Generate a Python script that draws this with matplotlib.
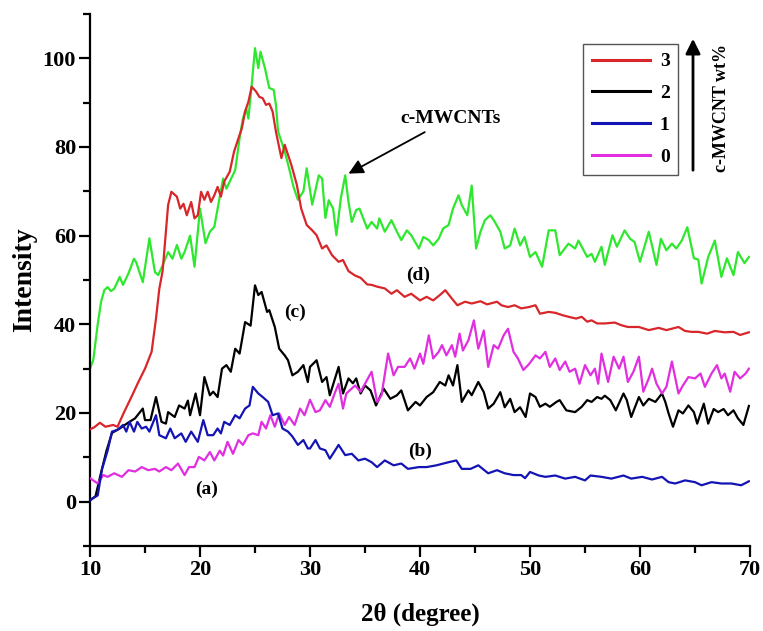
import matplotlib
matplotlib.use("Agg")
import matplotlib.pyplot as plt
from matplotlib.ticker import MultipleLocator

# ---------------- data ----------------
green_x = [10.0, 10.3, 10.7, 11.0, 11.3, 11.6, 11.9, 12.2, 12.7, 13.0, 13.5, 14.0, 14.2, 14.8,
           15.4, 15.9, 16.2, 16.6, 17.1, 17.5, 17.9, 18.3, 18.6, 19.1, 19.5, 20.0, 20.5, 20.9,
           21.3, 22.1, 22.4, 23.2, 23.6, 23.9, 24.2, 24.4, 24.7, 25.0, 25.3, 25.5, 25.9, 26.3,
           26.7, 26.9, 27.1, 27.7, 28.1, 28.5, 28.9, 29.4, 29.7, 30.2, 30.8, 31.1, 31.4, 31.7,
           32.1, 32.4, 32.8, 33.2, 33.5, 33.8, 34.2, 34.5, 35.2, 35.6, 36.1, 36.3, 36.8, 37.4,
           37.9, 38.3, 38.8, 39.2, 39.9, 40.3, 40.8, 41.2, 41.7, 42.1, 42.6, 43.0, 43.5, 43.8,
           44.3, 44.7, 45.1, 45.5, 45.9, 46.4, 46.8, 47.3, 47.7, 48.2, 48.6, 49.1, 49.5, 50.0,
           50.5, 51.1, 51.7, 52.3, 52.7, 53.5, 54.1, 54.4, 55.2, 55.6, 55.9, 56.5, 56.8, 57.5,
           57.9, 58.6, 59.1, 59.5, 60.0, 60.8, 61.5, 61.9, 62.4, 62.9, 63.3, 63.8, 64.3, 64.9,
           65.3, 65.6, 66.2, 66.8, 67.4, 67.9, 68.5, 68.9, 69.5, 69.9]
green_y = [30.0, 32.0, 40.0, 45.0, 47.7, 48.4, 47.5, 48.0, 50.7, 48.9, 51.5, 54.8, 54.0, 49.5,
           59.4, 51.8, 51.1, 53.3, 56.3, 54.8, 57.9, 54.8, 56.3, 60.0, 53.0, 66.1, 58.3, 60.9,
           62.0, 72.9, 70.6, 74.8, 82.0, 86.4, 88.7, 86.4, 94.0, 102.3, 97.8, 101.5, 97.8, 93.3,
           92.9, 89.5, 83.5, 79.0, 75.2, 71.0, 68.1, 70.0, 75.2, 67.0, 73.6, 72.9, 64.0, 68.0,
           66.1, 60.1, 68.4, 73.6, 67.6, 63.1, 65.8, 66.1, 61.6, 63.1, 61.6, 63.9, 60.9, 63.5,
           60.9, 59.0, 61.2, 60.1, 57.1, 59.7, 59.0, 57.8, 59.3, 61.6, 62.4, 66.1, 69.1, 66.9,
           64.6, 71.3, 57.1, 60.9, 63.5, 64.6, 63.1, 60.9, 57.1, 57.8, 61.6, 57.8, 59.7, 55.2,
           56.3, 53.0, 61.2, 61.2, 55.6, 58.2, 57.1, 58.9, 55.2, 55.9, 54.1, 57.5, 53.4, 60.1,
           57.5, 61.2, 59.3, 58.6, 54.1, 60.9, 53.4, 59.3, 56.7, 58.2, 57.1, 58.9, 61.9, 54.9,
           54.6, 49.2, 55.2, 58.9, 50.7, 54.9, 51.1, 56.3, 53.8, 55.2]

red_x = [10.0, 10.4, 10.9, 11.4, 12.1, 12.5, 13.1, 13.8, 14.4, 15.0, 15.6, 16.0, 16.3, 16.6,
         16.8, 17.1, 17.4, 17.9, 18.2, 18.5, 18.8, 19.2, 19.5, 19.8, 20.1, 20.4, 20.7, 21.0,
         21.3, 21.6, 21.9, 22.2, 22.7, 23.1, 23.5, 23.8, 24.1, 24.4, 24.7, 25.1, 25.4, 25.7,
         26.0, 26.3, 26.6, 26.9, 27.4, 27.7, 27.9, 28.3, 28.8, 29.2, 29.7, 30.2, 30.6, 31.1,
         31.5, 32.0, 32.6, 33.0, 33.5, 34.1, 34.6, 35.2, 35.6, 36.1, 36.8, 37.4, 37.9, 38.6,
         39.2, 40.0, 40.6, 41.2, 41.8, 42.3, 42.9, 43.4, 44.1, 44.7, 45.5, 46.1, 47.0, 47.4,
         48.0, 48.6, 49.2, 49.9, 50.5, 50.9, 51.7, 52.3, 52.9, 53.5, 54.2, 54.7, 55.2, 55.6,
         56.1, 56.8, 57.7, 58.3, 58.9, 59.9, 60.8, 61.7, 62.4, 63.5, 64.1, 64.7, 65.3, 66.1,
         66.8, 67.7, 68.5, 69.1, 69.9]
red_y = [16.3, 16.8, 17.8, 16.9, 17.3, 16.9, 20.2, 23.8, 27.0, 30.0, 33.8, 41.3, 48.0, 52.0,
         57.9, 66.9, 69.9, 68.8, 66.1, 67.2, 64.6, 67.6, 63.9, 64.6, 69.9, 68.1, 69.9, 67.6,
         69.1, 71.0, 68.8, 72.2, 74.4, 79.0, 82.0, 84.2, 88.0, 90.2, 93.6, 92.5, 91.3, 91.0,
         89.5, 89.8, 88.0, 83.5, 77.5, 80.5, 79.0, 76.0, 71.5, 66.1, 62.4, 61.2, 60.1, 57.1,
         57.8, 55.6, 54.1, 54.5, 52.0, 51.0, 50.5, 49.0, 48.9, 48.5, 48.1, 46.9, 47.7, 46.2,
         46.9, 45.4, 46.2, 45.4, 46.6, 47.7, 45.8, 44.3, 45.1, 44.7, 45.2, 44.5, 45.1, 44.3,
         43.9, 44.3, 43.6, 43.9, 44.3, 42.4, 42.8, 42.6, 42.1, 41.7, 41.3, 41.7, 40.6, 40.9,
         40.2, 40.2, 40.4, 39.8, 39.4, 39.4, 38.7, 39.2, 38.7, 39.4, 38.5, 38.3, 38.3, 37.9,
         38.5, 38.2, 38.3, 37.6, 38.2]

black_x = [10.0, 10.5, 11.0, 11.5, 12.0, 12.2, 12.7, 13.4, 14.1, 14.8, 15.0, 15.5, 16.0, 16.5,
           16.9, 17.1, 17.7, 18.1, 18.6, 18.9, 19.1, 19.6, 20.0, 20.4, 20.9, 21.2, 21.6, 22.0,
           22.4, 22.8, 23.2, 23.6, 24.1, 24.6, 25.0, 25.3, 25.6, 26.1, 26.3, 26.8, 27.2, 27.7,
           28.0, 28.4, 28.9, 29.4, 29.8, 30.0, 30.6, 31.1, 31.5, 31.8, 32.6, 33.0, 33.5, 33.9,
           34.2, 34.6, 35.0, 35.5, 36.0, 36.7, 37.3, 37.9, 38.3, 38.9, 39.6, 40.0, 40.6, 41.2,
           41.8, 42.3, 42.6, 43.0, 43.4, 43.8, 44.4, 44.7, 45.3, 45.8, 46.2, 46.7, 47.3, 47.7,
           48.2, 48.6, 49.1, 49.6, 50.0, 50.5, 50.9, 51.4, 51.8, 52.4, 52.7, 53.3, 54.1, 54.7,
           55.2, 55.6, 56.1, 56.5, 56.8, 57.3, 57.8, 58.5, 58.8, 59.2, 59.9, 60.3, 60.8, 61.4,
           62.0, 62.3, 62.6, 63.0, 63.5, 63.9, 64.4, 64.9, 65.2, 65.8, 66.2, 66.7, 67.1, 67.6,
           68.0, 68.5, 68.9, 69.4, 69.9]
black_y = [0.3, 1.2, 6.5, 11.5, 15.5, 15.8, 16.5, 17.7, 18.8, 21.0, 18.4, 18.4, 23.6, 18.0,
           17.6, 20.2, 19.1, 21.7, 21.0, 22.8, 19.5, 24.4, 19.5, 28.1, 24.0, 24.8, 23.6, 30.0,
           30.8, 29.3, 34.5, 33.4, 40.5, 39.7, 48.8, 46.6, 47.3, 42.8, 43.2, 39.4, 34.5, 33.0,
           31.9, 28.5, 29.3, 30.8, 27.0, 30.4, 31.9, 27.0, 28.1, 24.0, 30.4, 24.4, 27.8, 26.7,
           27.8, 24.4, 26.2, 25.1, 21.7, 25.5, 23.2, 24.0, 25.1, 20.6, 22.5, 21.7, 23.6, 24.7,
           27.0, 26.2, 28.5, 26.2, 30.8, 22.5, 25.1, 24.0, 27.0, 24.7, 21.0, 22.1, 24.7, 21.3,
           23.2, 20.2, 21.3, 19.1, 24.4, 23.6, 21.4, 22.1, 21.4, 22.5, 22.9, 20.6, 20.2, 21.4,
           22.9, 22.5, 23.6, 23.2, 23.9, 22.9, 20.6, 24.4, 22.9, 19.1, 23.6, 21.7, 23.2, 22.5,
           24.4, 22.5, 19.9, 16.9, 20.6, 19.9, 21.7, 20.2, 17.6, 22.1, 17.6, 20.9, 20.2, 20.9,
           19.5, 20.6, 18.8, 17.3, 21.6]

blue_x = [10.0, 10.2, 10.7, 11.1, 11.6, 12.0, 12.5, 13.0, 13.3, 13.6, 14.0, 14.3, 14.7, 15.1,
          15.4, 16.0, 16.3, 16.9, 17.3, 17.7, 18.3, 18.7, 19.2, 19.8, 20.3, 20.7, 21.2, 21.6,
          21.9, 22.2, 22.7, 23.2, 23.6, 24.1, 24.5, 24.8, 25.3, 25.7, 26.2, 26.6, 27.1, 27.5,
          28.0, 28.4, 28.9, 29.4, 29.8, 30.0, 30.5, 30.9, 31.4, 31.8, 32.6, 33.2, 33.8, 34.4,
          35.0, 35.6, 36.1, 36.8, 37.6, 38.3, 38.9, 39.9, 40.6, 41.5, 42.6, 43.3, 43.8, 44.6,
          45.3, 46.2, 47.0, 47.7, 48.5, 49.2, 49.55, 50.0, 50.8, 51.4, 52.3, 53.2, 54.1, 55.0,
          55.5, 56.5, 57.4, 58.5, 59.2, 60.2, 61.1, 62.0, 62.6, 63.2, 64.1, 65.0, 65.6, 66.5,
          67.4, 68.3, 69.2, 69.9]
blue_y = [0.2, 0.7, 1.4, 7.4, 11.5, 15.8, 16.2, 17.3, 15.8, 18.0, 15.8, 18.0, 16.5, 16.9,
          15.8, 19.5, 15.0, 14.3, 16.5, 14.3, 15.4, 13.5, 15.8, 13.5, 18.4, 15.0, 15.0, 16.5,
          15.4, 18.0, 17.3, 19.5, 18.8, 21.0, 21.7, 25.9, 24.4, 23.6, 22.5, 19.5, 19.9, 16.5,
          15.8, 14.7, 12.8, 13.9, 12.0, 12.0, 13.9, 12.0, 11.6, 9.7, 12.8, 10.5, 10.8, 9.3,
          9.7, 8.9, 7.8, 9.3, 8.2, 8.6, 7.4, 7.8, 7.8, 8.2, 8.9, 9.3, 7.4, 7.4,
          8.2, 6.4, 7.1, 6.4, 6.0, 6.0, 5.3, 6.7, 5.9, 5.6, 5.9, 5.2, 5.6, 4.8,
          5.9, 5.6, 5.2, 5.9, 5.2, 5.6, 5.0, 5.6, 4.4, 4.1, 4.8, 4.4, 3.7, 4.4,
          4.1, 4.1, 3.7, 4.6]

magenta_x = [10.0, 10.7, 11.2, 11.6, 12.2, 12.9, 13.5, 14.1, 14.7, 15.3, 15.9, 16.3, 16.9, 17.4,
             18.0, 18.6, 19.0, 19.5, 19.9, 20.4, 20.9, 21.3, 21.8, 22.1, 22.5, 23.0, 23.5, 23.9,
             24.4, 24.8, 25.3, 25.6, 26.0, 26.4, 26.8, 27.2, 27.7, 28.1, 28.6, 29.1, 29.5, 30.0,
             30.5, 30.9, 31.4, 31.8, 32.3, 32.6, 33.0, 33.3, 34.1, 34.6, 35.0, 35.6, 36.1, 36.5,
             37.1, 37.6, 38.0, 38.6, 39.1, 39.5, 40.0, 40.3, 40.8, 41.2, 41.7, 42.0, 42.4, 42.9,
             43.2, 43.6, 43.9, 44.4, 44.9, 45.3, 45.8, 46.2, 46.7, 47.1, 47.6, 48.0, 48.5, 48.9,
             49.4, 49.9, 50.5, 50.9, 51.4, 51.8, 52.3, 52.7, 53.2, 53.6, 54.1, 54.5, 55.0, 55.5,
             55.9, 56.2, 56.5, 57.1, 57.6, 58.1, 58.5, 58.9, 59.4, 59.9, 60.3, 60.8, 61.1, 61.5,
             62.0, 62.4, 62.9, 63.5, 63.9, 64.4, 65.0, 65.5, 65.9, 66.5, 67.0, 67.4, 67.7, 68.2,
             68.6, 69.1, 69.6, 69.9]
magenta_y = [5.3, 4.1, 6.0, 5.6, 6.4, 5.6, 7.1, 6.8, 7.8, 7.1, 7.4, 6.8, 7.8, 7.1,
             8.6, 6.0, 7.8, 7.8, 10.1, 9.3, 11.2, 9.3, 11.5, 10.4, 13.5, 10.8, 13.9, 12.8,
             15.0, 15.4, 15.0, 18.0, 16.5, 19.5, 16.9, 19.9, 17.3, 19.1, 17.3, 21.0, 19.5, 23.0,
             20.2, 20.6, 22.9, 21.4, 24.8, 26.6, 21.0, 24.4, 26.2, 24.8, 26.6, 29.3, 22.5, 24.0,
             33.4, 28.5, 30.4, 30.4, 32.3, 30.0, 33.4, 31.1, 37.5, 32.3, 33.8, 35.3, 33.0, 35.3,
             32.7, 37.9, 34.1, 36.4, 40.9, 34.5, 38.6, 30.4, 35.3, 34.5, 37.5, 39.0, 33.8, 32.3,
             29.7, 31.0, 33.0, 32.3, 33.8, 30.4, 32.3, 29.7, 31.6, 29.3, 30.0, 26.6, 30.8, 28.5,
             30.0, 26.6, 33.4, 27.0, 32.7, 30.0, 32.7, 27.0, 29.3, 32.7, 24.8, 27.8, 30.0, 26.6,
             24.4, 25.9, 31.6, 24.4, 26.2, 28.1, 27.8, 28.9, 25.9, 28.9, 30.8, 27.8, 28.9, 24.8,
             29.3, 27.8, 28.9, 30.0]

legend_labels = ["3", "2", "1", "0"]
x_ticks = [10, 20, 30, 40, 50, 60, 70]
y_ticks = [0, 20, 40, 60, 80, 100]

# ---------------- styling ----------------
FONT = "Liberation Serif"
plt.rcParams['font.family'] = [FONT, 'DejaVu Serif']
plt.rcParams['font.weight'] = 'bold'

C_RED = "#d8262a"
C_BLACK = "#000000"
C_BLUE = "#1414b4"
C_MAG = "#e02ee0"
C_GREEN = "#2ee82e"
LW = 1.6

fig = plt.figure(figsize=(7.63, 6.31), dpi=100)
ax = fig.add_axes([90 / 763, 1 - 546 / 631, (750 - 90) / 763, (546 - 14) / 631])

ax.plot(green_x, green_y, color=C_GREEN, lw=LW, zorder=2)
l3, = ax.plot(red_x, red_y, color=C_RED, lw=LW, zorder=3)
l2, = ax.plot(black_x, black_y, color=C_BLACK, lw=LW, zorder=3)
l0, = ax.plot(magenta_x, magenta_y, color=C_MAG, lw=LW, zorder=3)
l1, = ax.plot(blue_x, blue_y, color=C_BLUE, lw=LW, zorder=4)

ax.set_xlim(10, 70)
ax.set_ylim(-10, 110)
ax.set_xticks(x_ticks)
ax.set_yticks(y_ticks)
ax.xaxis.set_minor_locator(MultipleLocator(5))
ax.yaxis.set_minor_locator(MultipleLocator(10))

for s in ["top", "right"]:
    ax.spines[s].set_visible(False)
for s in ["left", "bottom"]:
    ax.spines[s].set_linewidth(1.6)

ax.tick_params(which="major", direction="out", length=8, width=1.6, labelsize=16, pad=2)
ax.tick_params(which="minor", direction="out", length=5, width=1.6)
for lab in ax.get_xticklabels() + ax.get_yticklabels():
    lab.set_fontweight("bold")

ax.set_xlabel("2θ (degree)", fontsize=18, fontweight="bold", labelpad=16)
ax.set_ylabel("Intensity", fontsize=20, fontweight="bold", labelpad=4)

# legend
leg = ax.legend([l3, l2, l1, l0], legend_labels, loc="upper left",
                bbox_to_anchor=(583 / 763, 1 - 44 / 631), bbox_transform=fig.transFigure,
                frameon=True, fancybox=False, edgecolor="#555555", framealpha=1,
                prop={"family": FONT, "weight": "bold", "size": 14},
                handlelength=3.0, handletextpad=0.5, labelspacing=0.73,
                borderpad=0.45, borderaxespad=0)
leg.get_frame().set_linewidth(1.0)
for h in leg.get_lines():
    h.set_linewidth(2.2)

# wt% arrow and label
fig.patches.append(matplotlib.patches.FancyArrowPatch(
    (693 / 763, 1 - 173 / 631), (693 / 763, 1 - 36 / 631), transform=fig.transFigure,
    arrowstyle="-|>", mutation_scale=22, lw=2, color="black"))
fig.text(722 / 763, 1 - 108 / 631, "c-MWCNT wt%", rotation=90, ha="center", va="center",
         fontsize=13, fontweight="bold")

# annotations
ax.annotate("c-MWCNTs", xy=(33.5, 74.0), xytext=(38.2, 86.5), fontsize=14, fontweight="bold",
            ha="left", va="center",
            arrowprops=dict(arrowstyle="-|>", color="black", lw=1.3, mutation_scale=22,
                            shrinkA=4, shrinkB=0))
ax.text(39.8, 51.1, "(d)", fontsize=14, fontweight="bold", ha="center", va="center")
ax.text(28.6, 42.7, "(c)", fontsize=14, fontweight="bold", ha="center", va="center")
ax.text(40.0, 11.4, "(b)", fontsize=14, fontweight="bold", ha="center", va="center")
ax.text(20.6, 2.8, "(a)", fontsize=14, fontweight="bold", ha="center", va="center")

fig.savefig("out.png", dpi=100)
